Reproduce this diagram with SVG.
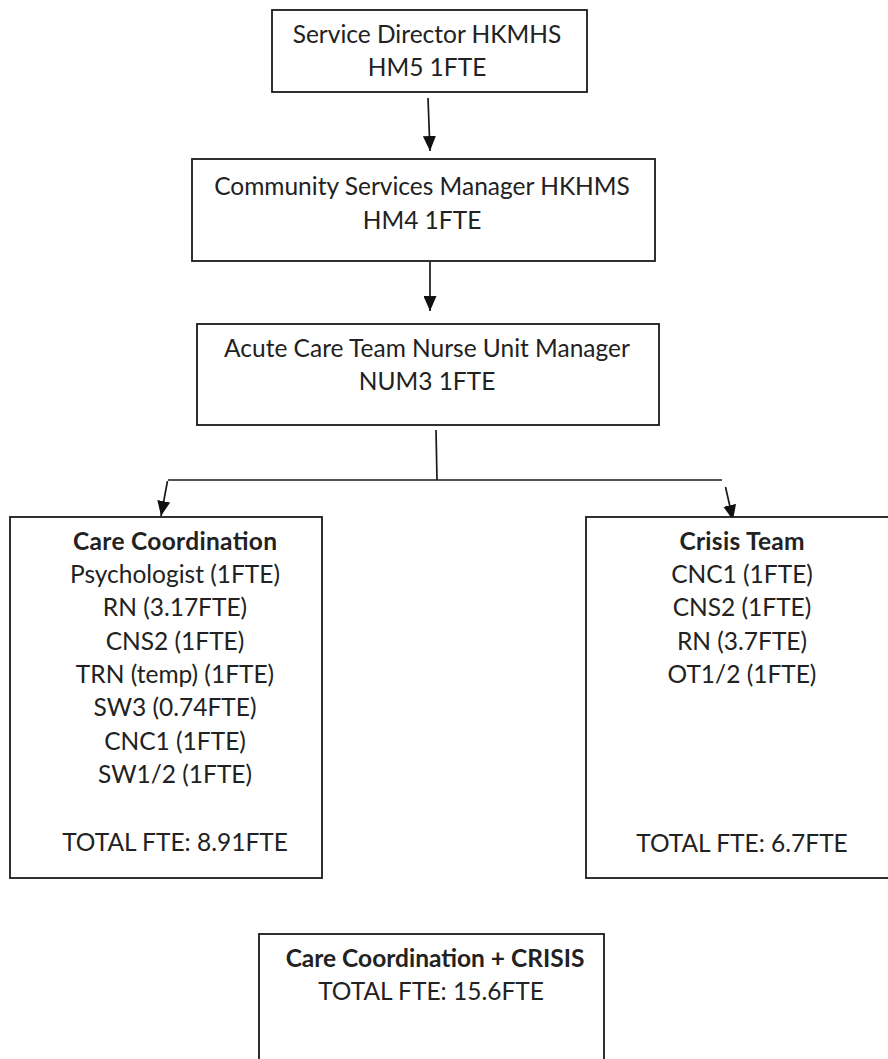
<svg xmlns="http://www.w3.org/2000/svg" width="888" height="1059" viewBox="0 0 888 1059">
  <style>
    .box { fill: #ffffff; stroke: #1a1a1a; stroke-width: 1.8; }
    .t { font-family: Lato, "Open Sans", "Liberation Sans", sans-serif; font-size: 24.5px; fill: #222222; text-anchor: middle; }
    .b { font-weight: bold; }
    .ln { stroke: #1a1a1a; stroke-width: 1.7; fill: none; }
  </style>
  <defs>
    <marker id="ah" viewBox="0 0 15 13" refX="15" refY="6.5" markerWidth="15" markerHeight="13" markerUnits="userSpaceOnUse" orient="auto">
      <path d="M0,0 L15,6.5 L0,13 z" fill="#111111"/>
    </marker>
  </defs>
  <rect width="888" height="1059" fill="#ffffff"/>

  <g id="connectors">
    <line class="ln" x1="428" y1="98" x2="430" y2="151" marker-end="url(#ah)"/>
    <line class="ln" x1="430" y1="262" x2="430" y2="311" marker-end="url(#ah)"/>
    <line class="ln" x1="436" y1="430" x2="437" y2="480"/>
    <line class="ln" x1="168" y1="480" x2="722" y2="480"/>
    <line class="ln" x1="167.5" y1="481" x2="161" y2="516" marker-end="url(#ah)"/>
    <line class="ln" x1="725.5" y1="487" x2="733" y2="520" marker-end="url(#ah)"/>
  </g>

  <g id="service-director">
    <rect class="box" x="272" y="10" width="315" height="82"/>
    <text class="t" x="427" y="43">Service Director HKMHS</text>
    <text class="t" x="427" y="76">HM5 1FTE</text>
  </g>

  <g id="community-services-manager">
    <rect class="box" x="192" y="159" width="463" height="102"/>
    <text class="t" x="422" y="195">Community Services Manager HKHMS</text>
    <text class="t" x="422" y="229">HM4 1FTE</text>
  </g>

  <g id="nurse-unit-manager">
    <rect class="box" x="197" y="324" width="462" height="101"/>
    <text class="t" x="427" y="357">Acute Care Team Nurse Unit Manager</text>
    <text class="t" x="427" y="390">NUM3 1FTE</text>
  </g>

  <g id="care-coordination">
    <rect class="box" x="10" y="517" width="312" height="361"/>
    <text class="t b" x="175" y="550" textLength="204">Care Coordination</text>
    <text class="t" x="175" y="583">Psychologist (1FTE)</text>
    <text class="t" x="175" y="616">RN (3.17FTE)</text>
    <text class="t" x="175" y="650">CNS2 (1FTE)</text>
    <text class="t" x="175" y="683">TRN (temp) (1FTE)</text>
    <text class="t" x="175" y="716">SW3 (0.74FTE)</text>
    <text class="t" x="175" y="750">CNC1 (1FTE)</text>
    <text class="t" x="175" y="783">SW1/2 (1FTE)</text>
    <text class="t" x="175" y="851">TOTAL FTE: 8.91FTE</text>
  </g>

  <g id="crisis-team">
    <rect class="box" x="586" y="517" width="310" height="361"/>
    <text class="t b" x="742" y="550" textLength="125">Crisis Team</text>
    <text class="t" x="742" y="583">CNC1 (1FTE)</text>
    <text class="t" x="742" y="616">CNS2 (1FTE)</text>
    <text class="t" x="742" y="650">RN (3.7FTE)</text>
    <text class="t" x="742" y="683">OT1/2 (1FTE)</text>
    <text class="t" x="742" y="852">TOTAL FTE: 6.7FTE</text>
  </g>

  <g id="combined-total">
    <rect class="box" x="259" y="934" width="345" height="140"/>
    <text class="t b" x="435" y="967">Care Coordination + CRISIS</text>
    <text class="t" x="431" y="1000">TOTAL FTE: 15.6FTE</text>
  </g>
</svg>
